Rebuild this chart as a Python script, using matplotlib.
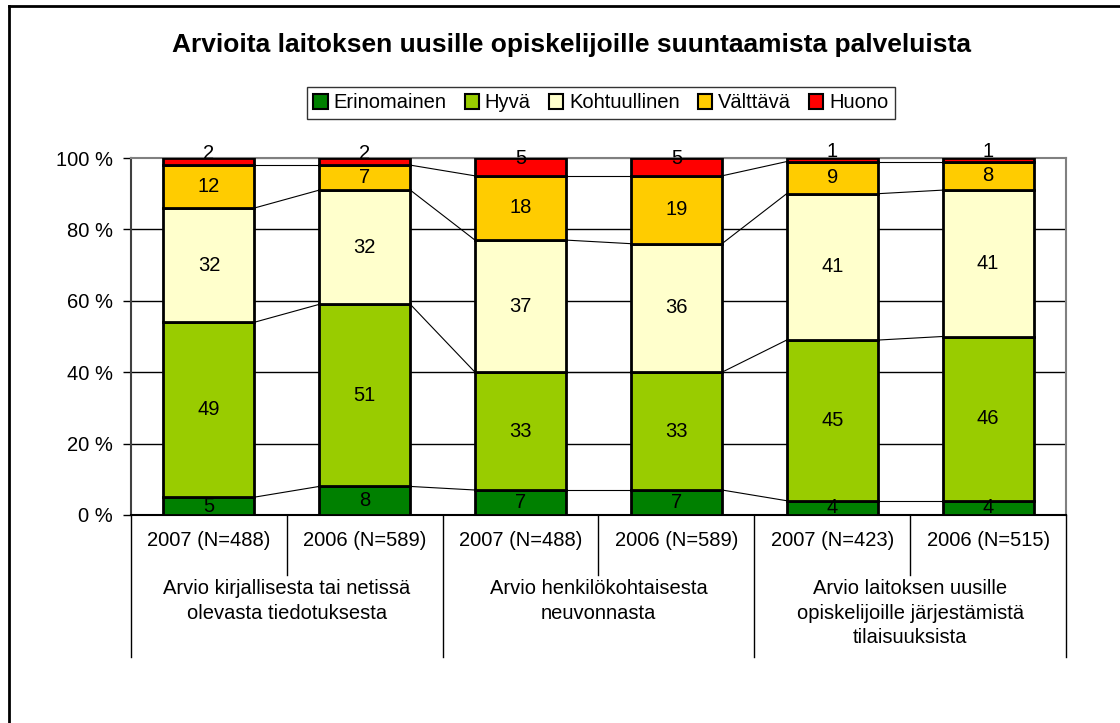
import matplotlib
matplotlib.use("Agg")
import matplotlib.pyplot as plt
from matplotlib.patches import Patch
from matplotlib.lines import Line2D
import numpy as np

plt.rcParams['font.family'] = ['Liberation Sans', 'DejaVu Sans']

title = "Arvioita laitoksen uusille opiskelijoille suuntaamista palveluista"
series_names = ["Erinomainen", "Hyvä", "Kohtuullinen", "Välttävä", "Huono"]
series_colors = ["#008000", "#99CC00", "#FFFFCC", "#FFCC00", "#FF0000"]
bar_labels = ["2007 (N=488)", "2006 (N=589)", "2007 (N=488)", "2006 (N=589)",
              "2007 (N=423)", "2006 (N=515)"]
group_labels = ["Arvio kirjallisesta tai netissä\nolevasta tiedotuksesta",
                "Arvio henkilökohtaisesta\nneuvonnasta",
                "Arvio laitoksen uusille\nopiskelijoille järjestämistä\ntilaisuuksista"]
erinomainen = [5, 8, 7, 7, 4, 4]
hyva = [49, 51, 33, 33, 45, 46]
kohtuullinen = [32, 32, 37, 36, 41, 41]
valttava = [12, 7, 18, 19, 9, 8]
huono = [2, 2, 5, 5, 1, 1]
yticks = [0, 20, 40, 60, 80, 100]
ytick_labels = ["0 %", "20 %", "40 %", "60 %", "80 %", "100 %"]

FS = 14.5
data = np.array([erinomainen, hyva, kohtuullinen, valttava, huono], dtype=float)
W, H = 1120, 723
fig = plt.figure(figsize=(W / 100, H / 100), dpi=100)
L, R, T, B = 131, 1066, 158, 515
ax = fig.add_axes([L / W, 1 - B / H, (R - L) / W, (B - T) / H])

n = data.shape[1]
x = np.arange(n)
bw = 0.585
ax.set_xlim(-0.5, n - 0.5)
ax.set_ylim(0, 100)

for yv in yticks[1:-1]:
    ax.axhline(yv, color='black', lw=1, zorder=0)

bottoms = np.zeros(n)
tops = []
for k in range(data.shape[0]):
    ax.bar(x, data[k], bw, bottom=bottoms, color=series_colors[k],
           edgecolor='black', linewidth=2, zorder=3)
    for i in range(n):
        yc = bottoms[i] + data[k][i] / 2
        off = 6 if k == data.shape[0] - 1 else 0
        ax.annotate(f"{int(data[k][i])}", (x[i], yc), xytext=(0, off),
                    textcoords='offset points', ha='center', va='center',
                    fontsize=FS, zorder=5)
    bottoms = bottoms + data[k]
    tops.append(bottoms.copy())

# series lines
for top in tops:
    for i in range(n - 1):
        ax.plot([x[i] + bw / 2, x[i + 1] - bw / 2], [top[i], top[i + 1]],
                color='black', lw=0.8, zorder=2)

ax.set_yticks(yticks)
ax.set_yticklabels(ytick_labels, fontsize=FS)
ax.tick_params(axis='y', length=6, width=1, direction='out', pad=7, color='black')
ax.set_xticks([])
for s in ['top', 'right']:
    ax.spines[s].set_color('#808080')
    ax.spines[s].set_linewidth(1.5)
ax.spines['left'].set_color('#404040')
ax.spines['left'].set_linewidth(1.5)
ax.spines['bottom'].set_color('black')
ax.spines['bottom'].set_linewidth(1.5)

tr = ax.get_xaxis_transform()
hpx = B - T
def yax(py):
    return (B - py) / hpx

for i, lab in enumerate(bar_labels):
    ax.text(x[i], yax(541), lab, transform=tr, ha='center', va='center', fontsize=FS)
for b in [0.5, 2.5, 4.5]:
    ax.plot([b, b], [0, yax(575)], transform=tr, color='black', lw=1, clip_on=False)
for b in [-0.5, 1.5, 3.5, 5.5]:
    ax.plot([b, b], [0, yax(657)], transform=tr, color='black', lw=1, clip_on=False)
for g, lab in enumerate(group_labels):
    ax.text(2 * g + 0.5, yax(579), lab, transform=tr, ha='center', va='top',
            fontsize=FS, linespacing=1.38)

fig.text(572 / W, 1 - 45 / H, title, ha='center', va='center', fontsize=19,
         fontweight='bold')

handles = [Patch(facecolor=c, edgecolor='black', linewidth=1.5) for c in series_colors]
leg = fig.legend(handles, series_names, ncol=5, loc='center',
                 bbox_to_anchor=(601 / W, 1 - 103 / H), frameon=True,
                 fancybox=False, edgecolor='black', fontsize=FS,
                 handlelength=0.7, handleheight=0.7, handletextpad=0.3,
                 columnspacing=0.9, borderpad=0.3, borderaxespad=0)
leg.get_frame().set_linewidth(1)

fig.add_artist(Line2D([9 / W, 9 / W], [0, 1 - 6 / H], transform=fig.transFigure,
                      color='black', lw=2))
fig.add_artist(Line2D([9 / W, 1], [1 - 6 / H, 1 - 6 / H], transform=fig.transFigure,
                      color='black', lw=2))

fig.savefig("out.png", dpi=100)
